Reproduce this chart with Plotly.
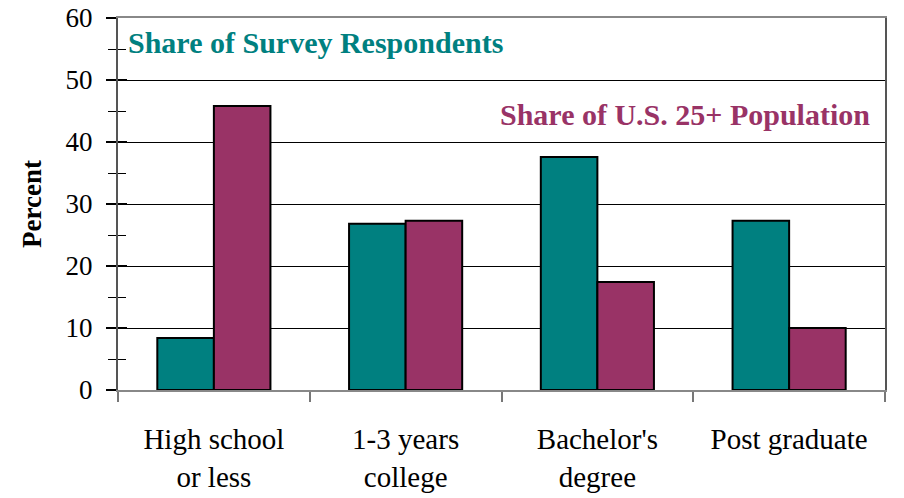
import plotly.graph_objects as go

categories = ["High school<br>or less", "1-3 years<br>college", "Bachelor's<br>degree", "Post graduate"]
survey_share = [8.4, 26.8, 37.6, 27.3]
population_share = [45.8, 27.3, 17.4, 10.0]
y_ticks = [0, 10, 20, 30, 40, 50, 60]

TEAL = "#008080"
PLUM = "#993366"
SERIF = "Liberation Serif"

fig = go.Figure()
fig.add_trace(go.Bar(x=categories, y=survey_share, name="Share of Survey Respondents",
                     marker=dict(color=TEAL, line=dict(color="black", width=2))))
fig.add_trace(go.Bar(x=categories, y=population_share, name="Share of U.S. 25+ Population",
                     marker=dict(color=PLUM, line=dict(color="black", width=2))))
# invisible trace on a second y axis, used only to draw the inward tick marks
fig.add_trace(go.Scatter(x=categories, y=survey_share, yaxis="y2", mode="markers",
                         marker=dict(opacity=0), showlegend=False, hoverinfo="skip"))

fig.update_layout(
    width=904, height=498,
    margin=dict(l=118, r=19, t=18, b=108),
    paper_bgcolor="white", plot_bgcolor="white",
    showlegend=False,
    barmode="group", bargap=0.41, bargroupgap=0,
    font=dict(family=SERIF, color="black", size=27),
    xaxis=dict(
        tickson="boundaries", ticks="outside", ticklen=10, tickcolor="#777", tickwidth=1.5,
        showline=True, linecolor="#888", linewidth=2, mirror=True,
        tickfont=dict(family=SERIF, size=29, color="black"),
        ticklabelstandoff=22,
        showgrid=False, automargin=False,
    ),
    yaxis=dict(
        range=[0, 60], tickvals=y_ticks, ticks="outside", ticklen=10, tickcolor="black", tickwidth=1.5,
        minor=dict(dtick=5, ticks="outside", ticklen=8, tickcolor="black", tickwidth=1.2, showgrid=False),
        showline=True, linecolor="#555", linewidth=2, mirror=True,
        showgrid=True, gridcolor="black", gridwidth=1,
        tickfont=dict(family=SERIF, size=27, color="black"),
        ticklabelstandoff=8, ticklabeloverflow="allow", automargin=False,
        title=dict(text="<b>Percent</b>", font=dict(family=SERIF, size=27, color="black"), standoff=16),
        zeroline=False,
    ),
    yaxis2=dict(
        range=[0, 60], overlaying="y", side="left", tickvals=y_ticks, ticks="inside", ticklen=9,
        tickcolor="black", tickwidth=1.5, showticklabels=False, showgrid=False, zeroline=False,
        minor=dict(dtick=5, ticks="inside", ticklen=8, tickcolor="black", tickwidth=1.2),
        showline=False,
    ),
    annotations=[
        dict(text="<b>Share of Survey Respondents</b>", x=0.01, y=56.1, xref="paper", yref="y",
             xanchor="left", yanchor="middle", showarrow=False,
             font=dict(family=SERIF, size=30, color=TEAL)),
        dict(text="<b>Share of U.S. 25+ Population</b>", x=0.983, y=44.4, xref="paper", yref="y",
             xanchor="right", yanchor="middle", showarrow=False,
             font=dict(family=SERIF, size=30, color=PLUM)),
    ],
)

# remove the browser's default page margin so the figure fills the window exactly
fig.write_html("out.html",
               config={"displayModeBar": False},
               post_script="document.body.style.margin='0';document.body.style.overflow='hidden';")
